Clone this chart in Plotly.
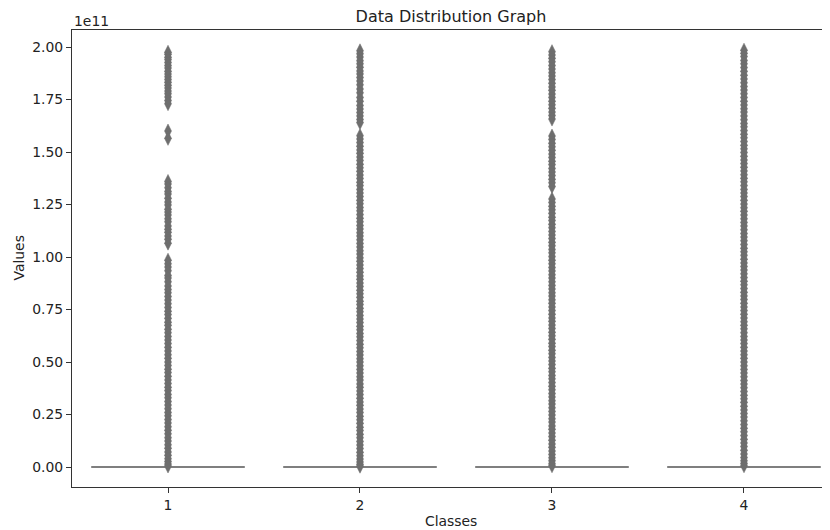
import plotly.graph_objects as go

# Values are in units of 1e11 (matplotlib-style offset label)
classes = ["1", "2", "3", "4"]

# Box statistics per class (all collapsed at ~0)
q1 = [0.0, 0.0, 0.0, 0.0]
median = [0.0, 0.0, 0.0, 0.0]
q3 = [0.0, 0.0, 0.0, 0.0]
lowerfence = [0.0, 0.0, 0.0, 0.0]
upperfence = [0.0, 0.0, 0.0, 0.0]

# Outliers
outliers_1 = [1.975, 1.966, 1.951, 1.94, 1.926, 1.912, 1.90, 1.884, 1.871, 1.858, 1.845, 1.832,
              1.818, 1.805, 1.79, 1.778, 1.762, 1.745, 1.73, 1.60, 1.565,
              1.36, 1.348, 1.33, 1.312, 1.30, 1.28, 1.262, 1.248, 1.228, 1.214, 1.20, 1.182,
              1.168, 1.148, 1.132, 1.118, 1.10, 1.085, 1.066,
              0.985, 0.968, 0.952, 0.935, 0.912, 0.90, 0.882, 0.862, 0.845, 0.83, 0.812, 0.795,
              0.778, 0.76, 0.742, 0.726, 0.708, 0.69, 0.675, 0.656, 0.64, 0.622, 0.605, 0.588,
              0.57, 0.553, 0.535, 0.518, 0.50, 0.484, 0.466, 0.45, 0.432, 0.415, 0.398, 0.38,
              0.364, 0.346, 0.33, 0.312, 0.295, 0.278, 0.26, 0.244, 0.226, 0.21, 0.192, 0.175,
              0.158, 0.14, 0.124, 0.106, 0.09, 0.072, 0.056, 0.04, 0.026, 0.014, 0.005]

outliers_2 = [1.982, 1.968, 1.952, 1.935, 1.92, 1.904, 1.886, 1.872, 1.855, 1.838, 1.82, 1.80,
              1.782, 1.76, 1.742, 1.722, 1.705, 1.688, 1.672, 1.655, 1.64,
              1.578, 1.562, 1.545, 1.528, 1.51, 1.494, 1.476, 1.46, 1.442, 1.425, 1.408, 1.39,
              1.374, 1.356, 1.34, 1.322, 1.305, 1.288, 1.27, 1.254, 1.236, 1.22, 1.202, 1.185,
              1.168, 1.15, 1.134, 1.116, 1.10, 1.082, 1.065, 1.048, 1.03, 1.014, 0.996, 0.98,
              0.962, 0.945, 0.928, 0.91, 0.894, 0.876, 0.86, 0.842, 0.825, 0.808, 0.79, 0.774,
              0.756, 0.74, 0.722, 0.705, 0.688, 0.67, 0.654, 0.636, 0.62, 0.602, 0.585, 0.568,
              0.55, 0.534, 0.516, 0.50, 0.482, 0.465, 0.448, 0.43, 0.414, 0.396, 0.38, 0.362,
              0.345, 0.328, 0.31, 0.294, 0.276, 0.26, 0.242, 0.225, 0.208, 0.19, 0.174, 0.156,
              0.14, 0.122, 0.105, 0.088, 0.07, 0.054, 0.038, 0.024, 0.012, 0.004]

outliers_3 = [1.978, 1.962, 1.946, 1.93, 1.912, 1.895, 1.878, 1.862, 1.845, 1.828, 1.81, 1.794,
              1.776, 1.76, 1.742, 1.725, 1.708, 1.69, 1.674, 1.657,
              1.576, 1.56, 1.542, 1.525, 1.508, 1.49, 1.474, 1.456, 1.44, 1.422, 1.405, 1.388,
              1.37, 1.354, 1.336,
              1.276, 1.26, 1.242, 1.225, 1.208, 1.19, 1.174, 1.156, 1.14, 1.122, 1.105, 1.088,
              1.07, 1.054, 1.036, 1.02, 1.002, 0.985, 0.968, 0.95, 0.934, 0.916, 0.90, 0.882,
              0.865, 0.848, 0.83, 0.814, 0.796, 0.78, 0.762, 0.745, 0.728, 0.71, 0.694, 0.676,
              0.66, 0.642, 0.625, 0.608, 0.59, 0.574, 0.556, 0.54, 0.522, 0.505, 0.488, 0.47,
              0.454, 0.436, 0.42, 0.402, 0.385, 0.368, 0.35, 0.334, 0.316, 0.30, 0.282, 0.265,
              0.248, 0.23, 0.214, 0.196, 0.18, 0.162, 0.145, 0.128, 0.11, 0.094, 0.076, 0.06,
              0.044, 0.03, 0.016, 0.006]

outliers_4 = [1.985, 1.97, 1.955, 1.936, 1.92, 1.902, 1.884, 1.866, 1.848, 1.83, 1.812, 1.795,
              1.778, 1.76, 1.742, 1.724, 1.706, 1.69, 1.672, 1.654, 1.636, 1.62, 1.602, 1.585,
              1.568, 1.55, 1.532, 1.515, 1.498, 1.48, 1.462, 1.445, 1.428, 1.41, 1.392, 1.375,
              1.358, 1.34, 1.322, 1.305, 1.288, 1.27, 1.252, 1.235, 1.218, 1.20, 1.182, 1.165,
              1.148, 1.13, 1.112, 1.095, 1.078, 1.06, 1.042, 1.025, 1.008, 0.99, 0.972, 0.955,
              0.938, 0.92, 0.902, 0.885, 0.868, 0.85, 0.832, 0.815, 0.798, 0.78, 0.762, 0.745,
              0.728, 0.71, 0.692, 0.675, 0.658, 0.64, 0.622, 0.605, 0.588, 0.57, 0.552, 0.535,
              0.518, 0.50, 0.482, 0.465, 0.448, 0.43, 0.412, 0.395, 0.378, 0.36, 0.342, 0.325,
              0.308, 0.29, 0.272, 0.255, 0.238, 0.22, 0.202, 0.185, 0.168, 0.15, 0.132, 0.115,
              0.098, 0.08, 0.062, 0.045, 0.03, 0.017, 0.006]

outliers = [outliers_1, outliers_2, outliers_3, outliers_4]

y_ticks = [0.0, 0.25, 0.5, 0.75, 1.0, 1.25, 1.5, 1.75, 2.0]
y_ticklabels = ["0.00", "0.25", "0.50", "0.75", "1.00", "1.25", "1.50", "1.75", "2.00"]

LINE = "#7f7f7f"
MARK = "#6e6e6e"
FONT = "DejaVu Sans"

fig = go.Figure()

for i, name in enumerate(classes):
    fig.add_trace(go.Scatter(
        x=[i] * len(outliers[i]), y=outliers[i], mode="markers",
        marker=dict(symbol="diamond-tall", size=10, color=MARK,
                    line=dict(color=MARK, width=0.5)),
        showlegend=False, hoverinfo="y"))

for i, name in enumerate(classes):
    fig.add_trace(go.Box(
        x=[i], q1=[q1[i]], median=[median[i]], q3=[q3[i]],
        lowerfence=[lowerfence[i]], upperfence=[upperfence[i]],
        width=0.8, whiskerwidth=0.5, boxpoints=False,
        line=dict(color=LINE, width=2), fillcolor=LINE,
        name=name, showlegend=False))

# The page body adds an 8px offset; figure is sized so that the plot
# area lands where the reference has it.
fig.update_layout(
    width=822, height=522,
    margin=dict(l=64, r=0, t=22, b=43),
    plot_bgcolor="white", paper_bgcolor="white",
    font=dict(family=FONT, size=13.9, color="#222"),
    title=dict(text="Data Distribution Graph", x=0.5, xref="paper",
               xanchor="center", y=1 - 8 / 522, yanchor="middle",
               font=dict(size=16, family=FONT, color="#222")),
    xaxis=dict(range=[-0.5, 3.448], tickmode="array", tickvals=[0, 1, 2, 3],
               ticktext=classes, showgrid=False, zeroline=False,
               showline=True, linecolor="#333", linewidth=1.1, mirror=True,
               ticks="outside", ticklen=5, tickcolor="#333", tickwidth=1.1),
    yaxis=dict(range=[-0.095, 2.081], tickmode="array", tickvals=y_ticks,
               ticktext=y_ticklabels, showgrid=False, zeroline=False,
               showline=True, linecolor="#333", linewidth=1.1,
               ticks="outside", ticklen=5, tickcolor="#333", tickwidth=1.1),
    annotations=[
        dict(text="1e11", xref="paper", yref="paper", x=0, y=1, xanchor="left",
             yanchor="bottom", yshift=-1, showarrow=False, font=dict(size=13.9)),
        dict(text="Values", xref="paper", yref="paper", x=0, xshift=-54, y=0.5,
             textangle=-90, xanchor="center", yanchor="middle", showarrow=False,
             font=dict(size=13.9)),
        dict(text="Classes", xref="paper", yref="paper", x=0.5, y=0, yshift=-34,
             xanchor="center", yanchor="middle", showarrow=False, font=dict(size=13.9)),
    ],
)

fig.write_html("out.html")
